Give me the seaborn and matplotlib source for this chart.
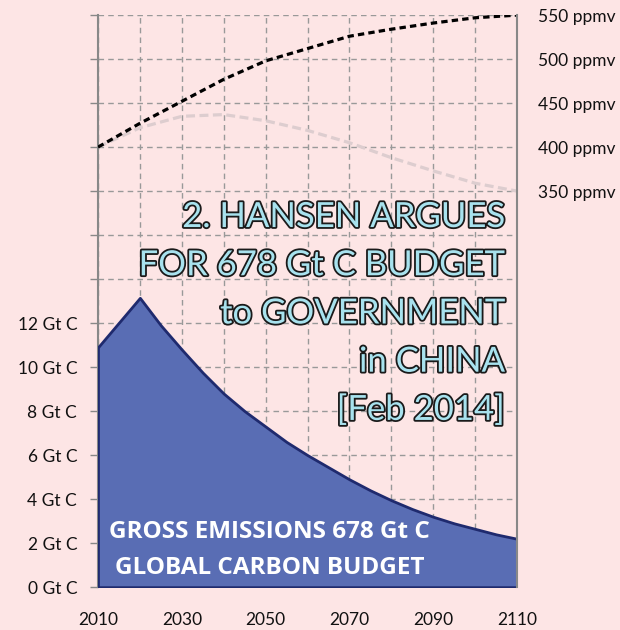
import numpy as np
import pandas as pd
import matplotlib
matplotlib.use("Agg")
import matplotlib.pyplot as plt
import matplotlib.patheffects as pe
import seaborn as sns

# values
em_years = [2010, 2020, 2025, 2030, 2035, 2040, 2045, 2050, 2055, 2060, 2065,
            2070, 2075, 2080, 2085, 2090, 2095, 2100, 2105, 2110]
emissions = [10.9, 13.15, 11.9, 10.8, 9.75, 8.8, 8.0, 7.3, 6.6, 6.0, 5.45,
             4.9, 4.4, 3.95, 3.55, 3.2, 2.9, 2.65, 2.4, 2.2]               # Gt C per year

co2_years = [2010, 2020, 2030, 2040, 2050, 2060, 2070, 2080, 2090, 2100, 2110]
co2_high = [400, 427, 452, 477, 498, 512, 526, 534, 541, 547, 550]      # ppmv, black dotted
co2_low = [400, 422, 435, 437, 430, 419, 405, 388, 373, 359, 350]       # ppmv, light dashed

gt_ticks = list(range(0, 27, 2))
gt_labels = [f"{v} Gt C" if v <= 12 else "" for v in gt_ticks]
ppm_ticks = [350, 400, 450, 500, 550]
ppm_labels = [f"{v} ppmv" for v in ppm_ticks]
x_ticks = list(range(2010, 2111, 10))
x_labels = [str(v) if (v - 2010) % 20 == 0 else "" for v in x_ticks]

title_lines = ["2. HANSEN ARGUES", "FOR 678 Gt C BUDGET", "to GOVERNMENT",
               "in CHINA", "[Feb 2014]"]
budget_lines = ["GROSS EMISSIONS 678 Gt C", "GLOBAL CARBON BUDGET"]

bg = "#fde5e5"
fill_col = "#596db4"
edge_col = "#1f2a6e"

sns.set_theme(style="white")
plt.rcParams["font.family"] = ["Lato", "DejaVu Sans"]

em = pd.DataFrame({"year": em_years, "emissions": emissions})
co2 = pd.DataFrame({"year": co2_years, "high": co2_high, "low": co2_low})

fig = plt.figure(figsize=(6.2, 6.3), dpi=100, facecolor=bg)
ax = fig.add_axes([0.158, 0.068, 0.676, 0.908])
ax.set_facecolor(bg)

ax.fill_between(em["year"], em["emissions"], 0, facecolor=fill_col,
                edgecolor=edge_col, linewidth=2, zorder=3)
ax.set_xlim(2010, 2110)
ax.set_ylim(0, 26)
ax.set_yticks(gt_ticks)
ax.set_yticklabels(gt_labels, fontsize=12.5, color="#111111")
ax.set_xticks(x_ticks)
ax.set_xticklabels(x_labels, fontsize=12.5, color="#111111")
ax.tick_params(axis="x", length=0, pad=18)
ax.tick_params(axis="y", length=6, width=1, color="#888888", pad=9, left=True)
ax.grid(True, linestyle=(0, (4, 3)), color="#999999", linewidth=1)
ax.set_axisbelow(True)
for side in ["top", "bottom", "right"]:
    ax.spines[side].set_visible(False)
ax.spines["left"].set_color("#888888")
ax.spines["left"].set_linewidth(1.5)

ax2 = ax.twinx()
ax2.set_ylim(-100, 550)
sns.lineplot(data=co2, x="year", y="low", ax=ax2, color="#ddcdcf",
             linewidth=2.3, linestyle=(0, (2.8, 1.4)), zorder=2)
sns.lineplot(data=co2, x="year", y="high", ax=ax2, color="black",
             linewidth=2.3, linestyle=(0, (2, 1.3)), zorder=2)
ax2.set_yticks(ppm_ticks)
ax2.set_yticklabels(ppm_labels, fontsize=12.5, color="#111111")
ax2.tick_params(axis="y", length=0, pad=15)
ax2.set_xlabel("")
ax2.set_ylabel("")
ax.set_xlabel("")
for side in ["top", "bottom", "left"]:
    ax2.spines[side].set_visible(False)
ax2.spines["right"].set_color("#888888")
ax2.spines["right"].set_linewidth(1.5)
ax2.grid(False)

# big outlined title, one line at a time (pixel rows 217, 265, 313, 362, 410)
outline = [pe.withStroke(linewidth=2.6, foreground="#1a1a1a")]
for i, line in enumerate(title_lines):
    ax2.text(0.971, 0.647 - i * 0.0843, line, transform=ax.transAxes,
             ha="right", va="center", fontsize=25, color="#a8e2ee",
             zorder=5, path_effects=outline)

for i, line in enumerate(budget_lines):
    ax2.text(0.41, 0.096 - i * 0.062, line, transform=ax.transAxes,
             ha="center", va="center", fontsize=17.5, fontweight="bold",
             family=["Open Sans", "DejaVu Sans"], color="white", zorder=5)

fig.savefig("out.png", dpi=100, facecolor=bg)
